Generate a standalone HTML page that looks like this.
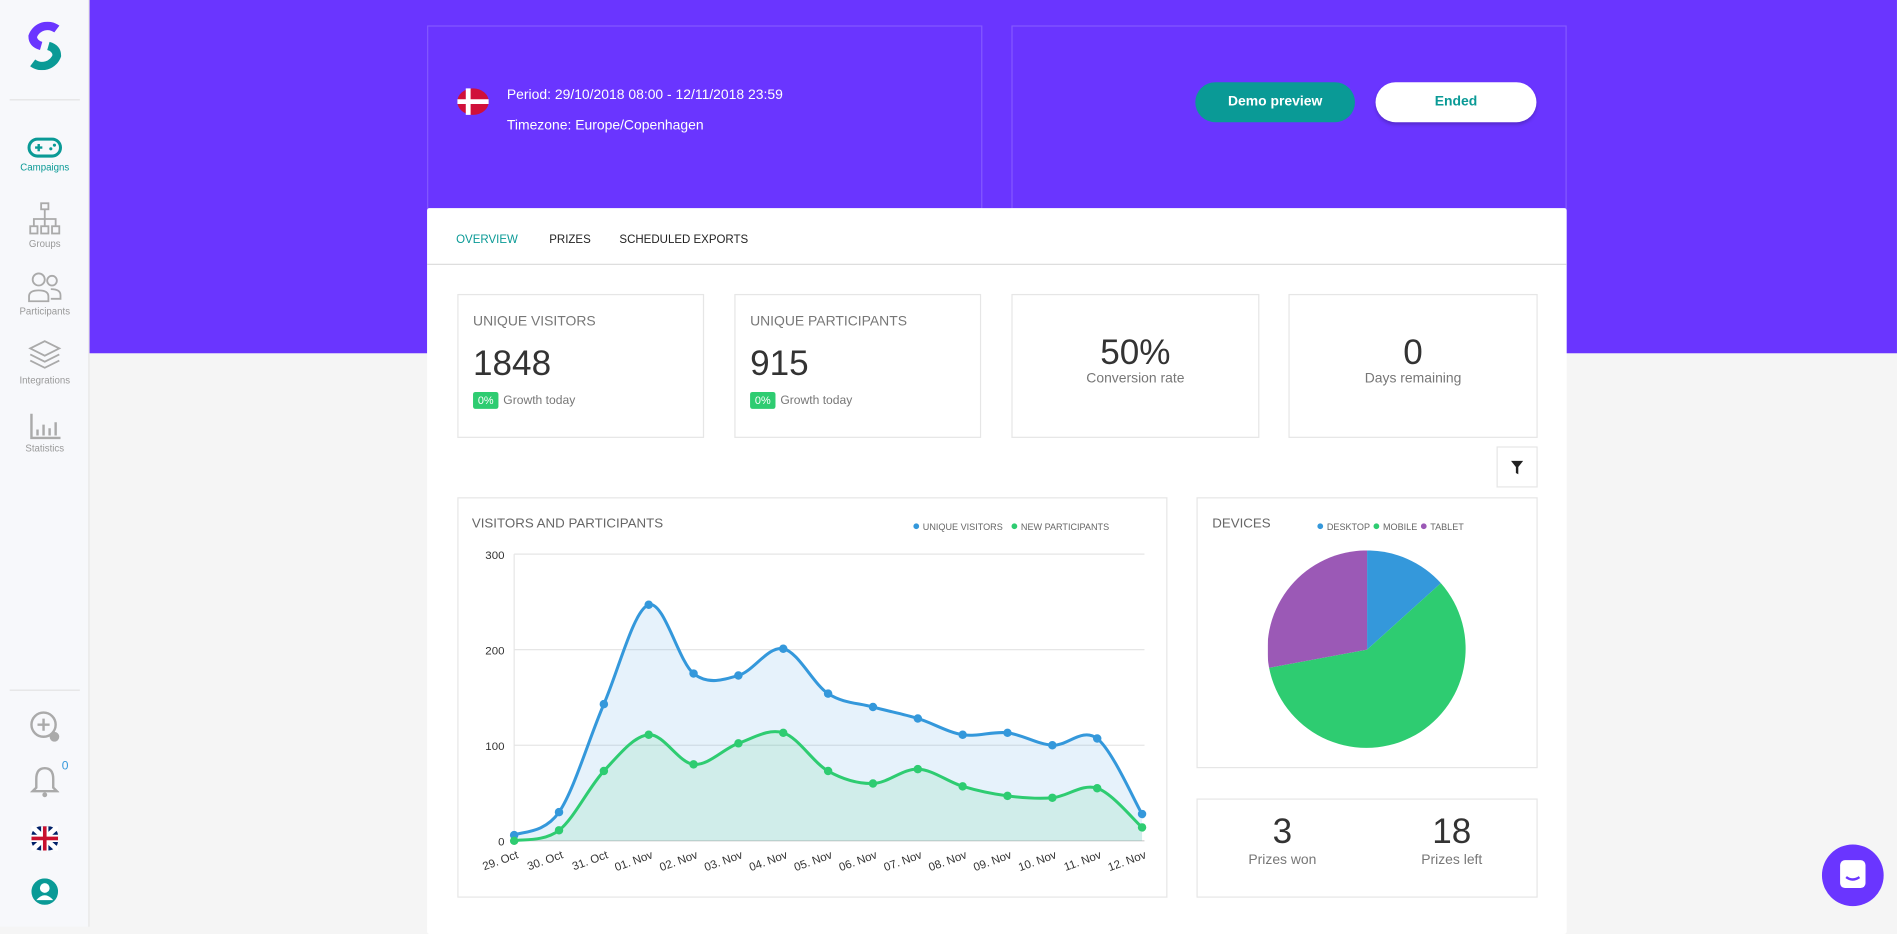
<!DOCTYPE html>
<html><head><meta charset="utf-8"><style>
html,body{margin:0;padding:0;width:1897px;height:926px;overflow:hidden;background:#f5f5f5;font-family:"Liberation Sans",sans-serif}
#w{position:absolute;left:0;top:0;width:1568px;height:766px;transform:scale(1.2098);transform-origin:0 0;background:#f5f5f5}
.a{position:absolute}
.side{left:0;top:0;width:73px;height:766px;background:#f7f8fb;border-right:1px solid #e6e6e6}
.nav{width:74px;text-align:center;font-size:8px;color:#999}
.card{background:#fff;border:1px solid #e6e6e6}
.hc{border:1px solid rgba(255,255,255,.18)}
.t{color:#777;font-size:11.5px}
.big{font-size:29px;color:#333}
.badge{background:#2ecc71;color:#fff;font-size:9px;padding:2px 4px;border-radius:2px;margin-right:4px}
</style></head><body><div id="w">
<div class="a" style="left:74px;top:0;width:1494px;height:292px;background:#6a35ff"></div>
<div class="a side"></div>
<svg class="a" style="left:22px;top:18px" width="30" height="40" viewBox="0 0 30 40"><path d="M25 6 A13 13 0 0 0 5 12 Q5 18 12 20" stroke="#6a35ff" stroke-width="7" fill="none"/><path d="M18 20 Q25 22 25 28 A13 13 0 0 1 5 34" stroke="#0a9a96" stroke-width="7" fill="none"/></svg>
<div class="a" style="left:8px;top:82px;width:58px;height:1px;background:#e3e3e3"></div>
<div class="a nav" style="top:112px;color:#0a9a96"><svg width="30" height="20"><rect x="2" y="3" width="26" height="14" rx="7" fill="none" stroke="#0a9a96" stroke-width="2.5"/><path d="M7 10h6M10 7v6" stroke="#0a9a96" stroke-width="2"/><circle cx="20" cy="11" r="1.3" fill="#0a9a96"/><circle cx="23" cy="8" r="1.3" fill="#0a9a96"/></svg><br>Campaigns</div>
<div class="a nav" style="top:167px"><svg width="30" height="28"><g fill="none" stroke="#aaa" stroke-width="1.5"><rect x="12" y="1" width="6" height="5"/><rect x="3" y="20" width="6" height="6"/><rect x="12" y="20" width="6" height="6"/><rect x="21" y="20" width="6" height="6"/><path d="M15 6v8M6 20v-6h18v6M15 14v6"/></g></svg><br>Groups</div>
<div class="a nav" style="top:225px"><svg width="30" height="26"><g fill="none" stroke="#aaa" stroke-width="1.5"><circle cx="10" cy="6" r="5"/><circle cx="21" cy="7" r="4"/><path d="M2 24v-4q0-5 8-5t8 5v4z"/><path d="M20 14q8 0 8 5v3h-8"/></g></svg><br>Participants</div>
<div class="a nav" style="top:280px"><svg width="30" height="28"><g fill="none" stroke="#aaa" stroke-width="1.5"><path d="M15 2l12 6-12 6-12-6z"/><path d="M3 13l12 6 12-6M3 18l12 6 12-6"/></g></svg><br>Integrations</div>
<div class="a nav" style="top:340px"><svg width="30" height="24"><g stroke="#aaa" stroke-width="2"><path d="M4 2v20h24" fill="none"/><path d="M9 20v-5M14 20v-9M19 20v-6M24 20v-11"/></g></svg><br>Statistics</div>
<div class="a" style="left:8px;top:570px;width:58px;height:1px;background:#e3e3e3"></div>
<svg class="a" style="left:24px;top:587px" width="28" height="28"><circle cx="12" cy="12" r="10" fill="none" stroke="#aaa" stroke-width="2"/><path d="M12 7v10M7 12h10" stroke="#aaa" stroke-width="2"/><circle cx="21" cy="22" r="4" fill="#aaa"/></svg>
<svg class="a" style="left:25px;top:632px" width="24" height="28"><path d="M12 3q-7 0-7 9v7l-3 3h20l-3-3v-7q0-9-7-9z" fill="none" stroke="#aaa" stroke-width="2"/><circle cx="12" cy="25" r="2" fill="#aaa"/></svg>
<div class="a" style="left:51px;top:628px;font-size:10px;color:#3498db">0</div>
<svg class="a" style="left:26px;top:683px" width="22" height="20"><rect width="22" height="20" rx="8" fill="#012169"/><path d="M0 0L22 20M22 0L0 20" stroke="#fff" stroke-width="4"/><path d="M11 0v20M0 10h22" stroke="#fff" stroke-width="6"/><path d="M11 0v20M0 10h22" stroke="#c8102e" stroke-width="3"/></svg>
<svg class="a" style="left:26px;top:726px" width="22" height="22"><circle cx="11" cy="11" r="11" fill="#0a9a96"/><circle cx="11" cy="8" r="4" fill="#fff"/><path d="M4 18q7-8 14 0" fill="#fff"/></svg>

<div class="a hc" style="left:353px;top:21px;width:457px;height:150px"></div>
<div class="a hc" style="left:836px;top:21px;width:457px;height:150px"></div>
<svg class="a" style="left:378px;top:72px" width="26" height="24"><ellipse cx="13" cy="12" rx="13" ry="11" fill="#d0103a"/><path d="M9 1v22M0 12h26" stroke="#fff" stroke-width="4"/></svg>
<div class="a" style="left:419px;top:73px;color:#fff;font-size:11.5px">Period: 29/10/2018 08:00 - 12/11/2018 23:59</div>
<div class="a" style="left:419px;top:98px;color:#fff;font-size:11.5px">Timezone: Europe/Copenhagen</div>
<div class="a" style="left:988px;top:68px;width:132px;height:33px;border-radius:17px;background:#0a9a96;color:#fff;font-weight:bold;font-size:11.5px;text-align:center;line-height:33px">Demo preview</div>
<div class="a" style="left:1137px;top:68px;width:133px;height:33px;border-radius:17px;background:#fff;color:#0a9a96;font-weight:bold;font-size:11.5px;text-align:center;line-height:33px;box-shadow:0 2px 3px rgba(0,0,0,.2)">Ended</div>

<div class="a" style="left:353px;top:172px;width:942px;height:600px;background:#fff;border-radius:2px"></div>
<div class="a" style="left:353px;top:218px;width:942px;height:1px;background:#ddd"></div>
<div class="a" style="left:377px;top:193px;font-size:9.5px;color:#0a9a96">OVERVIEW</div>
<div class="a" style="left:454px;top:193px;font-size:9.5px;color:#222">PRIZES</div>
<div class="a" style="left:512px;top:193px;font-size:9.5px;color:#222">SCHEDULED EXPORTS</div>

<div class="a card" style="left:378px;top:243px;width:202px;height:117px"><div class="a t" style="left:12px;top:16px">UNIQUE VISITORS</div><div class="a big" style="left:12px;top:41px">1848</div><div class="a" style="left:12px;top:82px;font-size:10px;color:#777"><span class="badge">0%</span>Growth today</div></div>
<div class="a card" style="left:607px;top:243px;width:202px;height:117px"><div class="a t" style="left:12px;top:16px">UNIQUE PARTICIPANTS</div><div class="a big" style="left:12px;top:41px">915</div><div class="a" style="left:12px;top:82px;font-size:10px;color:#777"><span class="badge">0%</span>Growth today</div></div>
<div class="a card" style="left:836px;top:243px;width:203px;height:117px;text-align:center"><div class="big" style="margin-top:32px">50%</div><div class="t" style="margin-top:-2px">Conversion rate</div></div>
<div class="a card" style="left:1065px;top:243px;width:204px;height:117px;text-align:center"><div class="big" style="margin-top:32px">0</div><div class="t" style="margin-top:-2px">Days remaining</div></div>
<div class="a card" style="left:1237px;top:369px;width:32px;height:32px"><svg width="32" height="32"><path d="M11 11h10l-4 5v6l-2-1v-5z" fill="#222"/></svg></div>

<div class="a card" style="left:378px;top:411px;width:585px;height:329px"></div>
<div class="a" style="left:390px;top:427px;font-size:11px;color:#666">VISITORS AND PARTICIPANTS</div>
<div class="a" style="left:754px;top:429px;font-size:7.5px;color:#666"><span style="color:#3498db;font-size:11px">●</span> UNIQUE VISITORS &nbsp;&nbsp;<span style="color:#2ecc71;font-size:11px">●</span> NEW PARTICIPANTS</div>
<svg class="a" id="ch" style="left:378px;top:440px" width="585" height="300"></svg>

<div class="a card" style="left:989px;top:411px;width:280px;height:222px"></div>
<div class="a" style="left:1002px;top:427px;font-size:11px;color:#666">DEVICES</div>
<div class="a" style="left:1088px;top:429px;font-size:7.5px;color:#666"><span style="color:#3498db;font-size:11px">●</span> DESKTOP <span style="color:#2ecc71;font-size:11px">●</span> MOBILE <span style="color:#9b59b6;font-size:11px">●</span> TABLET</div>
<svg class="a" style="left:1048px;top:455px" width="164" height="164" viewBox="-82 -82 164 164">
<path d="M0 0L0 -82A82 82 0 0 1 61 -55Z" fill="#3498db"/>
<path d="M0 0L61 -55A82 82 0 1 1 -81 15Z" fill="#2ecc71"/>
<path d="M0 0L-81 15A82 82 0 0 1 0 -82Z" fill="#9b59b6"/>
</svg>
<div class="a card" style="left:989px;top:660px;width:280px;height:80px"></div>
<div class="a big" style="left:1020px;top:672px;width:80px;text-align:center">3</div>
<div class="a t" style="left:1020px;top:705px;width:80px;text-align:center">Prizes won</div>
<div class="a big" style="left:1160px;top:672px;width:80px;text-align:center">18</div>
<div class="a t" style="left:1160px;top:705px;width:80px;text-align:center">Prizes left</div>

<div class="a" style="left:1506px;top:698px;width:51px;height:51px;border-radius:50%;background:#6a35ff"><svg width="51" height="51"><rect x="15" y="13" width="21" height="23" rx="4" fill="#fff"/><path d="M20 27q5 4 11 0" stroke="#6a35ff" stroke-width="2" fill="none"/></svg></div>
</div>
<script>
var v=[6,30,143,247,175,173,201,154,140,128,111,113,100,107,28],p=[0,11,73,111,80,102,113,73,60,75,57,47,45,55,14];
var L=['29. Oct','30. Oct','31. Oct','01. Nov','02. Nov','03. Nov','04. Nov','05. Nov','06. Nov','07. Nov','08. Nov','09. Nov','10. Nov','11. Nov','12. Nov'];
var ox=378,oy=440;function X(i){return 425+i*519/14-ox}function Y(d){return 695-d*0.79-oy}
function path(a){var pts=a.map(function(d,i){return[X(i),Y(d)]});var s='M'+pts[0];for(var i=0;i<pts.length-1;i++){var p0=pts[i-1]||pts[i],p1=pts[i],p2=pts[i+1],p3=pts[i+2]||p2;var c1=[p1[0]+(p2[0]-p0[0])/6,p1[1]+(p2[1]-p0[1])/6],c2=[p2[0]-(p3[0]-p1[0])/6,p2[1]-(p3[1]-p1[1])/6];s+='C'+c1+' '+c2+' '+p2}return s}
var h='';[0,100,200,300].forEach(function(t){h+='<line x1="'+X(0)+'" x2="'+(X(14)+2)+'" y1="'+Y(t)+'" y2="'+Y(t)+'" stroke="'+(t?'#e6e6e6':'#ccc')+'"/><text x="'+(X(0)-8)+'" y="'+(Y(t)+4)+'" font-size="9.5" text-anchor="end" fill="#333" font-family="Liberation Sans">'+t+'</text>'});
h+='<line x1="'+X(0)+'" x2="'+X(0)+'" y1="'+Y(300)+'" y2="'+Y(0)+'" stroke="#e6e6e6"/>';
var b='L'+X(14)+','+Y(0)+'L'+X(0)+','+Y(0)+'Z';
h+='<path d="'+path(v)+b+'" fill="#3498db" fill-opacity=".12"/><path d="'+path(p)+b+'" fill="#2ecc71" fill-opacity=".12"/>';
h+='<path d="'+path(v)+'" stroke="#3498db" stroke-width="2.5" fill="none"/><path d="'+path(p)+'" stroke="#2ecc71" stroke-width="2.5" fill="none"/>';
v.forEach(function(d,i){h+='<circle cx="'+X(i)+'" cy="'+Y(d)+'" r="3.5" fill="#3498db"/>'});
p.forEach(function(d,i){h+='<circle cx="'+X(i)+'" cy="'+Y(d)+'" r="3.5" fill="#2ecc71"/>'});
L.forEach(function(l,i){h+='<text transform="translate('+(X(i)+4)+','+(Y(0)+14)+') rotate(-20)" font-size="9.5" text-anchor="end" fill="#333" font-family="Liberation Sans">'+l+'</text>'});
document.getElementById('ch').innerHTML=h;
</script>
</body></html>
